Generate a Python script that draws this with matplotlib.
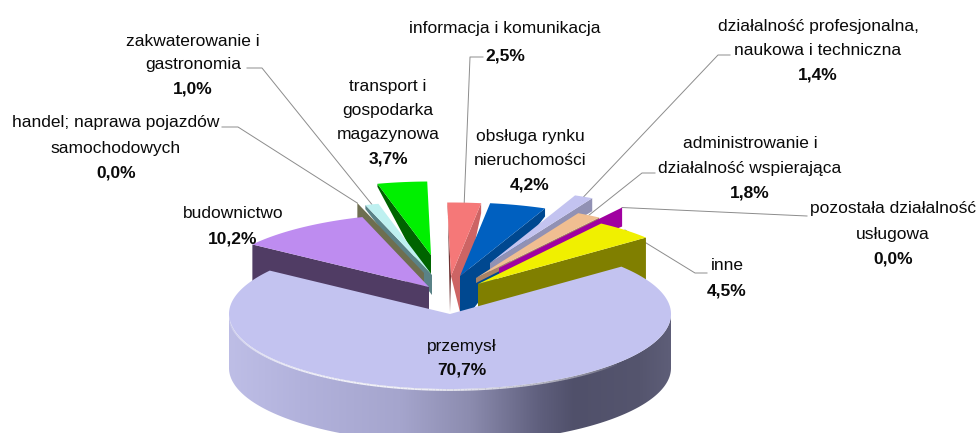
import matplotlib
matplotlib.use('Agg')
import matplotlib.pyplot as plt
import numpy as np
from matplotlib.collections import LineCollection
from matplotlib.colors import to_rgb
from matplotlib.patches import Polygon

# slices clockwise, starting at the top of the pie
categories = ['informacja i komunikacja', 'obsługa rynku\nnieruchomości',
              'działalność profesjonalna,\nnaukowa i techniczna',
              'administrowanie i\ndziałalność wspierająca',
              'pozostała działalność\nusługowa', 'inne', 'przemysł', 'budownictwo',
              'handel; naprawa pojazdów\nsamochodowych', 'zakwaterowanie i\ngastronomia',
              'transport i\ngospodarka\nmagazynowa']
values = [2.5, 4.2, 1.4, 1.8, 0.0, 4.5, 70.7, 10.2, 0.0, 1.0, 3.7]

top_colors = ['#F57878', '#0060C0', '#C3C3F0', '#F0BE91', '#A000A0', '#F0F000',
              '#C3C3F0', '#BE8CF0', '#6E6E50', '#BEF0F0', '#00F000']
side_colors = ['#CD6464', '#004890', '#9191B4', '#AA8264', '#A000A0', '#807F00',
               '#C3C3F0', '#503C64', '#6E6E50', '#5A8287', '#006400']

# layout: offset of each slice tip from the pie centre, depth of the cut face at tip and rim
explode_x = [1, 10, 40, 26, 49, 28, 0, -21, -26, -18, -19]
explode_y = [-38, -38, -51, -36, -46, -30, 0, -27, -41, -39, -59]
tip_depth = [36, 50, 10, 5, 10, 50, 0, 50, 30, 20, 32]
rim_depth = [10, 8, 13, 3, 19, 50, 0, 50, 20, 4, 3]

# label centres: x, y of first line, y of the bold value
label_x = [505, 530, 818, 750, 893, 727, 462, 233, 116, 193, 388]
label_y = [29, 136, 26, 144, 209, 266, 346, 214, 123, 41, 86]
value_y = [56, 185, 75, 193, 259, 291, 370, 239, 173, 89, 159]

# leader lines: the elbow next to the label, None when the label has no line
elbows = [[(483, 57), (470, 57)], None, [(730, 55), (718, 55)], [(655, 173), (642, 173)],
          [(807, 216)], [(707, 273), (695, 273)], None, None,
          [(222, 127), (238, 127)], [(247, 68), (262, 68)], None]

cx, cy = 450, 314
rx, ry = 221, 75
depth = 54
start_angle = 91.0
far_scale = 0.98

plt.rcParams['font.family'] = ['Liberation Sans', 'DejaVu Sans']
fig = plt.figure(figsize=(9.79, 4.33), dpi=100)
ax = fig.add_axes([0, 0, 1, 1])
ax.axis('off')

# angles come from the values
sweeps = np.array(values) / sum(values) * 360
t_start = start_angle - np.concatenate(([0], np.cumsum(sweeps)[:-1]))
t_end = t_start - sweeps
tips = []
for i in range(len(values)):
    tips.append((cx + explode_x[i], cy + explode_y[i]))


def edge_point(i, t):
    r = 1.0 if categories[i] == 'przemysł' else far_scale
    rad = np.radians(t)
    return tips[i][0] + r * rx * np.cos(rad), tips[i][1] - r * ry * np.sin(rad)


def draw_slice(i):
    x0, y0 = tips[i]
    mid = ((t_start[i] + t_end[i]) / 2) % 360
    # cut face turned to the viewer: left edge on the left half, right edge on the right
    t_face = t_start[i] if mid > 90 else t_end[i]
    ox, oy = edge_point(i, t_face)
    skew = 9 if categories[i].startswith('informacja') else 0
    ax.fill([ox, x0, x0 + skew, ox], [oy, y0, y0 + tip_depth[i], oy + rim_depth[i]],
            color=side_colors[i], lw=0, zorder=2)
    if skew:
        # thin dark strip on the other cut face
        lx, ly = edge_point(i, t_start[i])
        ax.fill([lx, x0, x0 - 1, lx + 0.5], [ly, y0, y0 + tip_depth[i], ly + 4],
                color='#6E3232', lw=0, zorder=2)
    ts = np.linspace(t_start[i], t_end[i], max(int(sweeps[i] * 2), 2))
    xs, ys = edge_point(i, ts)
    ax.fill(np.r_[x0, xs], np.r_[y0, ys], color=top_colors[i], lw=0, zorder=2)


# back slices first, the big one last
for i in [10, 9, 8, 7, 0, 1, 2, 3, 4, 5]:
    draw_slice(i)

# rim of the big slice, shaded from left to right
stops_x = [229, 300, 400, 470, 540, 575, 640, 672]
stops_c = ['#BEBEE6', '#B2B2DC', '#A5A5CD', '#8C8CAF', '#5F5F7D', '#50506A', '#55556E', '#5E5E78']
stops_rgb = np.array([to_rgb(c) for c in stops_c])
grad_x = np.arange(cx - rx, cx + rx + 1)
grad = np.stack([np.interp(grad_x, stops_x, stops_rgb[:, c]) for c in range(3)], axis=-1)[np.newaxis, :, :]
im = ax.imshow(grad, extent=(cx - rx, cx + rx, cy + ry + depth, cy - 5), aspect='auto', zorder=3)
t_rim = np.linspace(-180, 0, 240)
x_rim = cx + rx * np.cos(np.radians(t_rim))
y_rim = cy - ry * np.sin(np.radians(t_rim))
rim = Polygon(np.r_[np.c_[x_rim, y_rim], np.c_[x_rim[::-1], y_rim[::-1] + depth]],
              transform=ax.transData, fc='none', ec='none')
ax.add_patch(rim)
im.set_clip_path(rim)

ts = np.linspace(t_start[6], t_end[6], 300)
xs, ys = edge_point(6, ts)
ax.fill(np.r_[cx, xs], np.r_[cy, ys], color=top_colors[6], lw=0, zorder=4)

# light bevel along the front edge
t_bev = np.linspace(-178, -40, 150)
x_bev = cx + rx * np.cos(np.radians(t_bev))
y_bev = cy - ry * np.sin(np.radians(t_bev)) + 1
segs = [[(x_bev[k], y_bev[k]), (x_bev[k + 1], y_bev[k + 1])] for k in range(len(t_bev) - 1)]
alphas = np.sin(np.linspace(0, np.pi, len(segs))) ** 0.7 * 0.85
ax.add_collection(LineCollection(segs, colors=[(1, 1, 1, a) for a in alphas], linewidths=1.3, zorder=5))

# leader lines
for i, elbow in enumerate(elbows):
    if elbow is None:
        continue
    mid = (t_start[i] + t_end[i]) / 2
    end = edge_point(i, mid)
    pts = elbow + [end]
    ax.plot([p[0] for p in pts], [p[1] for p in pts], color='#8C8C8C', lw=0.7, zorder=1)

# labels
for i, name in enumerate(categories):
    n_lines = name.count('\n') + 1
    for j, line in enumerate(name.split('\n')):
        gap = (value_y[i] - label_y[i]) / n_lines
        ax.text(label_x[i], label_y[i] + j * gap, line, ha='center', va='center',
                fontsize=12.5, color='#0A0A0A', zorder=6)
    ax.text(label_x[i], value_y[i], f'{values[i]:.1f}%'.replace('.', ','), ha='center', va='center',
            fontsize=12.5, fontweight='bold', color='#0A0A0A', zorder=6)

ax.set_xlim(0, 979)
ax.set_ylim(433, 0)
fig.savefig('out.png', dpi=100)
